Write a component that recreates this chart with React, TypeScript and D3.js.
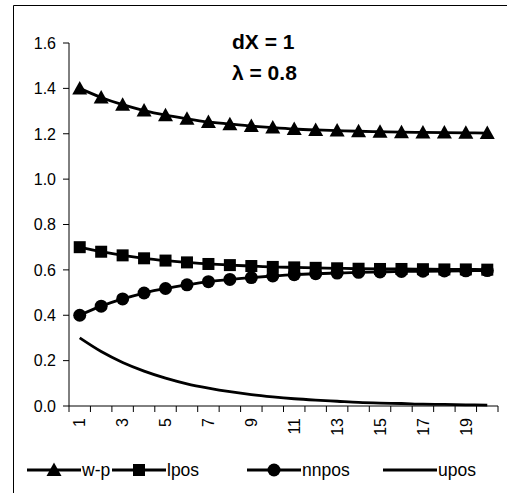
import React from "react";
import * as d3 from "d3";

const categories = d3.range(1, 21).map(String);
const wp = [1.4, 1.36, 1.328, 1.302, 1.282, 1.266, 1.252, 1.242, 1.234, 1.227, 1.221, 1.217, 1.214, 1.211, 1.209, 1.207, 1.206, 1.205, 1.204, 1.203];
const lpos = [0.7, 0.68, 0.664, 0.651, 0.641, 0.633, 0.626, 0.621, 0.617, 0.613, 0.611, 0.609, 0.607, 0.605, 0.604, 0.604, 0.603, 0.602, 0.602, 0.601];
const nnpos = [0.4, 0.44, 0.472, 0.498, 0.518, 0.534, 0.548, 0.558, 0.566, 0.573, 0.579, 0.583, 0.586, 0.589, 0.591, 0.593, 0.594, 0.595, 0.596, 0.597];
const upos = [0.3, 0.24, 0.192, 0.154, 0.123, 0.098, 0.079, 0.063, 0.05, 0.04, 0.032, 0.026, 0.021, 0.016, 0.013, 0.011, 0.008, 0.007, 0.005, 0.004];
const yTicks = [0, 0.2, 0.4, 0.6, 0.8, 1.0, 1.2, 1.4, 1.6];
const xTickLabels = ["1", "3", "5", "7", "9", "11", "13", "15", "17", "19"];
const legendNames = ["w-p", "lpos", "nnpos", "upos"];

const FONT = "Liberation Sans, Arial, Helvetica, sans-serif";

function Marker({ type, x, y }: { type: string; x: number; y: number }) {
  if (type === "tri") {
    const s = 7.5;
    return <path d={`M${x},${y - s}L${x + s},${y + s * 0.8}L${x - s},${y + s * 0.8}Z`} fill="#000" />;
  }
  if (type === "sq") {
    const s = 6;
    return <rect x={x - s} y={y - s} width={2 * s} height={2 * s} fill="#000" />;
  }
  if (type === "circ") {
    return <circle cx={x} cy={y} r={6.5} fill="#000" />;
  }
  return null;
}

export default function App() {
  const W = 507, H = 495;
  const x0 = 69, x1 = 498, yTop = 43, yBot = 406;
  const x = d3.scaleBand<string>().domain(categories).range([x0, x1]);
  const y = d3.scaleLinear().domain([0, 1.6]).range([yBot, yTop]);
  const cx = (c: string) => (x(c) as number) + x.bandwidth() / 2;

  const line = d3
    .line<number>()
    .x((_, i) => cx(categories[i]))
    .y((v) => y(v))
    .curve(d3.curveCatmullRom.alpha(0.5));

  const series = [
    { name: legendNames[0], values: wp, marker: "tri" },
    { name: legendNames[1], values: lpos, marker: "sq" },
    { name: legendNames[2], values: nnpos, marker: "circ" },
    { name: legendNames[3], values: upos, marker: "none" },
  ];

  const legendItems = [
    { lx: 27, name: legendNames[0], marker: "tri" },
    { lx: 112, name: legendNames[1], marker: "sq" },
    { lx: 247, name: legendNames[2], marker: "circ" },
    { lx: 383, name: legendNames[3], marker: "none" },
  ];
  const legY = 470;
  const ts = { fontFamily: FONT } as React.CSSProperties;

  return (
    <svg
      width={W}
      height={H}
      style={{ position: "absolute", left: 0, top: 0, background: "#fff", fontFamily: FONT }}
    >
      <rect x={0} y={0} width={W} height={H} fill="#fff" />
      {/* frame */}
      <line x1={13.5} y1={5.5} x2={W} y2={5.5} stroke="#000" strokeWidth={1} />
      <line x1={13.5} y1={5.5} x2={13.5} y2={493} stroke="#000" strokeWidth={1} />

      {/* y axis */}
      <line x1={x0} y1={yTop} x2={x0} y2={yBot} stroke="#000" strokeWidth={1} />
      {yTicks.map((t) => (
        <g key={t}>
          <line x1={x0 - 6} x2={x0} y1={y(t)} y2={y(t)} stroke="#000" />
          <text style={ts} x={x0 - 13} y={y(t)} dy="0.36em" textAnchor="end" fontSize={16} fill="#000">
            {t.toFixed(1)}
          </text>
        </g>
      ))}

      {/* x axis */}
      <line x1={x0} y1={yBot} x2={x1} y2={yBot} stroke="#000" strokeWidth={1} />
      {d3.range(0, 21).map((i) => {
        const xx = x0 + i * x.step();
        return <line key={i} x1={xx} x2={xx} y1={yBot} y2={yBot + 6} stroke="#000" />;
      })}
      {xTickLabels.map((l) => (
        <text
          key={l}
          style={ts}
          transform={`translate(${cx(l)},${yBot + 12}) rotate(-90)`}
          textAnchor="end"
          dy="0.36em"
          fontSize={16}
          fill="#000"
        >
          {l}
        </text>
      ))}

      {/* series */}
      {series.map((s) => (
        <g key={s.name}>
          <path d={line(s.values) as string} fill="none" stroke="#000" strokeWidth={2.8} />
          {s.values.map((v, i) => (
            <Marker key={i} type={s.marker} x={cx(categories[i])} y={y(v)} />
          ))}
        </g>
      ))}

      {/* annotation */}
      <text style={ts} x={232} y={49} fontSize={21} fontWeight="bold" fill="#000">
        dX = 1
      </text>
      <text style={ts} x={232} y={80} fontSize={21} fontWeight="bold" fill="#000">
        λ = 0.8
      </text>

      {/* legend */}
      {legendItems.map((it) => (
        <g key={it.name}>
          <line x1={it.lx} x2={it.lx + 54} y1={legY} y2={legY} stroke="#000" strokeWidth={2.8} />
          <Marker type={it.marker} x={it.lx + 27} y={legY} />
          <text style={ts} x={it.lx + 55} y={legY} dy="0.36em" fontSize={17.5} fill="#000">
            {it.name}
          </text>
        </g>
      ))}
    </svg>
  );
}
